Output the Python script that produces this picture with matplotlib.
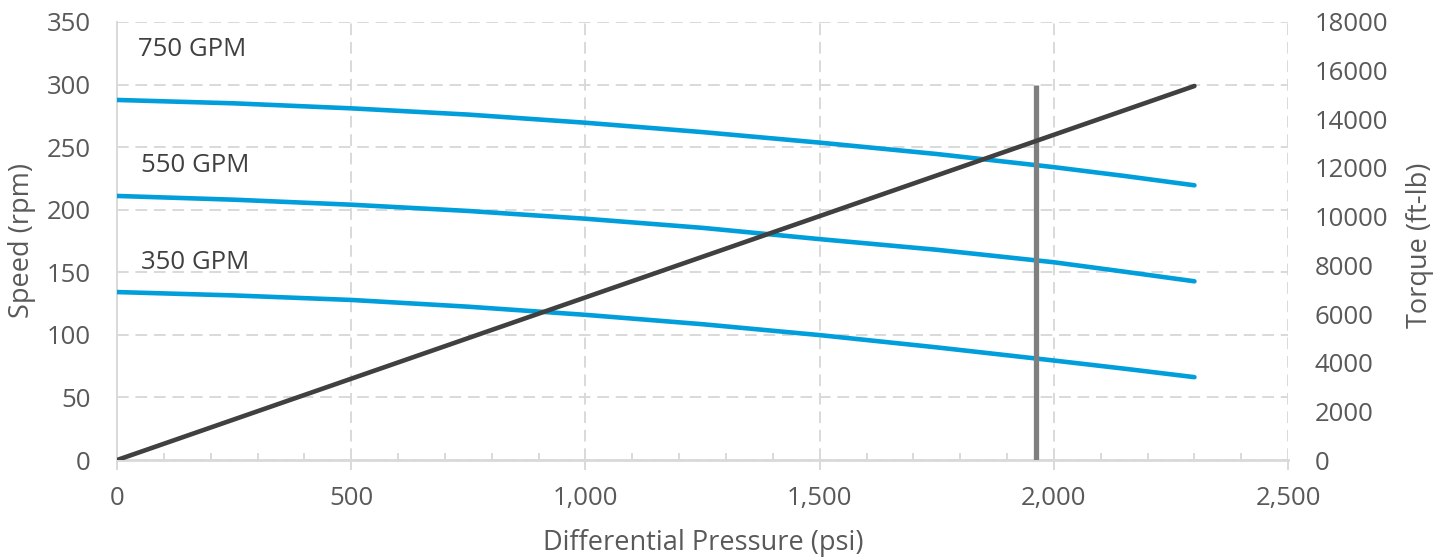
import matplotlib
matplotlib.use("Agg")
import matplotlib.pyplot as plt
from matplotlib.ticker import MultipleLocator, FuncFormatter

plt.rcParams['font.family'] = ['Open Sans', 'DejaVu Sans']

# ---- data ----
pressure = [0, 250, 500, 750, 1000, 1250, 1500, 1750, 2000, 2150, 2300]
speed_750 = [287.7, 285.0, 281.0, 276.0, 269.5, 262.0, 253.6, 244.5, 234.0, 227.0, 219.5]
speed_550 = [211.0, 208.0, 204.0, 199.0, 192.8, 185.5, 176.5, 168.0, 158.0, 150.5, 142.8]
speed_350 = [134.2, 131.5, 127.9, 122.5, 116.0, 108.5, 99.8, 90.0, 79.5, 73.0, 66.2]
torque_p = [0, 2300]
torque = [0, 15370]
limit_p = [1961, 1961]
limit_speed = [0, 299.5]
flow_labels = ["750 GPM", "550 GPM", "350 GPM"]
flow_label_pos = [(45, 328), (51, 235), (51, 158)]

BLUE = "#009FDB"
DARK = "#404040"
GREY = "#7F7F7F"
GRID = "#D9D9D9"
TXT = "#595959"

FS = 18.5

fig = plt.figure(figsize=(14.47, 5.58), dpi=100)
ax = fig.add_axes([0.0809, 0.1756, 0.8093, 0.785])
ax2 = ax.twinx()

for ys in (speed_750, speed_550, speed_350):
    ax.plot(pressure, ys, color=BLUE, lw=3.3, solid_capstyle='round', zorder=3)
ax.plot(limit_p, limit_speed, color=GREY, lw=3.8, solid_capstyle='butt', zorder=4)
ax2.plot(torque_p, torque, color=DARK, lw=3.3, solid_capstyle='round', zorder=5)

for txt, (x, y) in zip(flow_labels, flow_label_pos):
    ax.text(x, y, txt, ha='left', va='center', fontsize=FS, color=DARK)

ax.set_xlim(0, 2500)
ax.set_ylim(0, 350)
ax2.set_ylim(0, 18000)

ax.xaxis.set_major_locator(MultipleLocator(500))
ax.xaxis.set_minor_locator(MultipleLocator(100))
ax.yaxis.set_major_locator(MultipleLocator(50))
ax2.yaxis.set_major_locator(MultipleLocator(2000))
ax.xaxis.set_major_formatter(FuncFormatter(lambda v, p: f"{int(v):,}"))

ax.grid(True, which='major', color=GRID, lw=1.4, linestyle=(0, (6, 3.5)))
ax.set_axisbelow(True)

for a in (ax, ax2):
    for s in ('top', 'right', 'left', 'bottom'):
        a.spines[s].set_visible(False)
ax.spines['bottom'].set_visible(True)
ax.spines['bottom'].set_color(GRID)
ax.spines['bottom'].set_linewidth(2.0)
ax.spines['left'].set_visible(True)
ax.spines['left'].set_color(GRID)
ax.spines['left'].set_linewidth(1.4)

ax.tick_params(axis='x', which='major', direction='out', length=7.5, width=1.4,
               color=GRID, pad=11, labelsize=FS, labelcolor=TXT)
ax.tick_params(axis='x', which='minor', direction='in', length=5, width=1.4, color=GRID)
ax.tick_params(axis='y', which='both', length=0, pad=19, labelsize=FS, labelcolor=TXT)
ax2.tick_params(axis='y', which='both', length=0, pad=19, labelsize=FS, labelcolor=TXT)

ax.set_xlabel("Differential Pressure (psi)", fontsize=19.5, color=TXT)
ax.set_ylabel("Speed (rpm)", fontsize=19.5, color=TXT)
ax2.set_ylabel("Torque (ft-lb)", fontsize=19.5, color=TXT)
ax.xaxis.set_label_coords(0.5004, -0.1895)
ax.yaxis.set_label_coords(-0.0811, 0.502)
ax2.yaxis.set_label_coords(1.1127, 0.49)
ax.xaxis.label.set_va('center')
ax.yaxis.label.set_va('center')
ax2.yaxis.label.set_va('center')

fig.savefig("out.png", dpi=100, facecolor='white')
